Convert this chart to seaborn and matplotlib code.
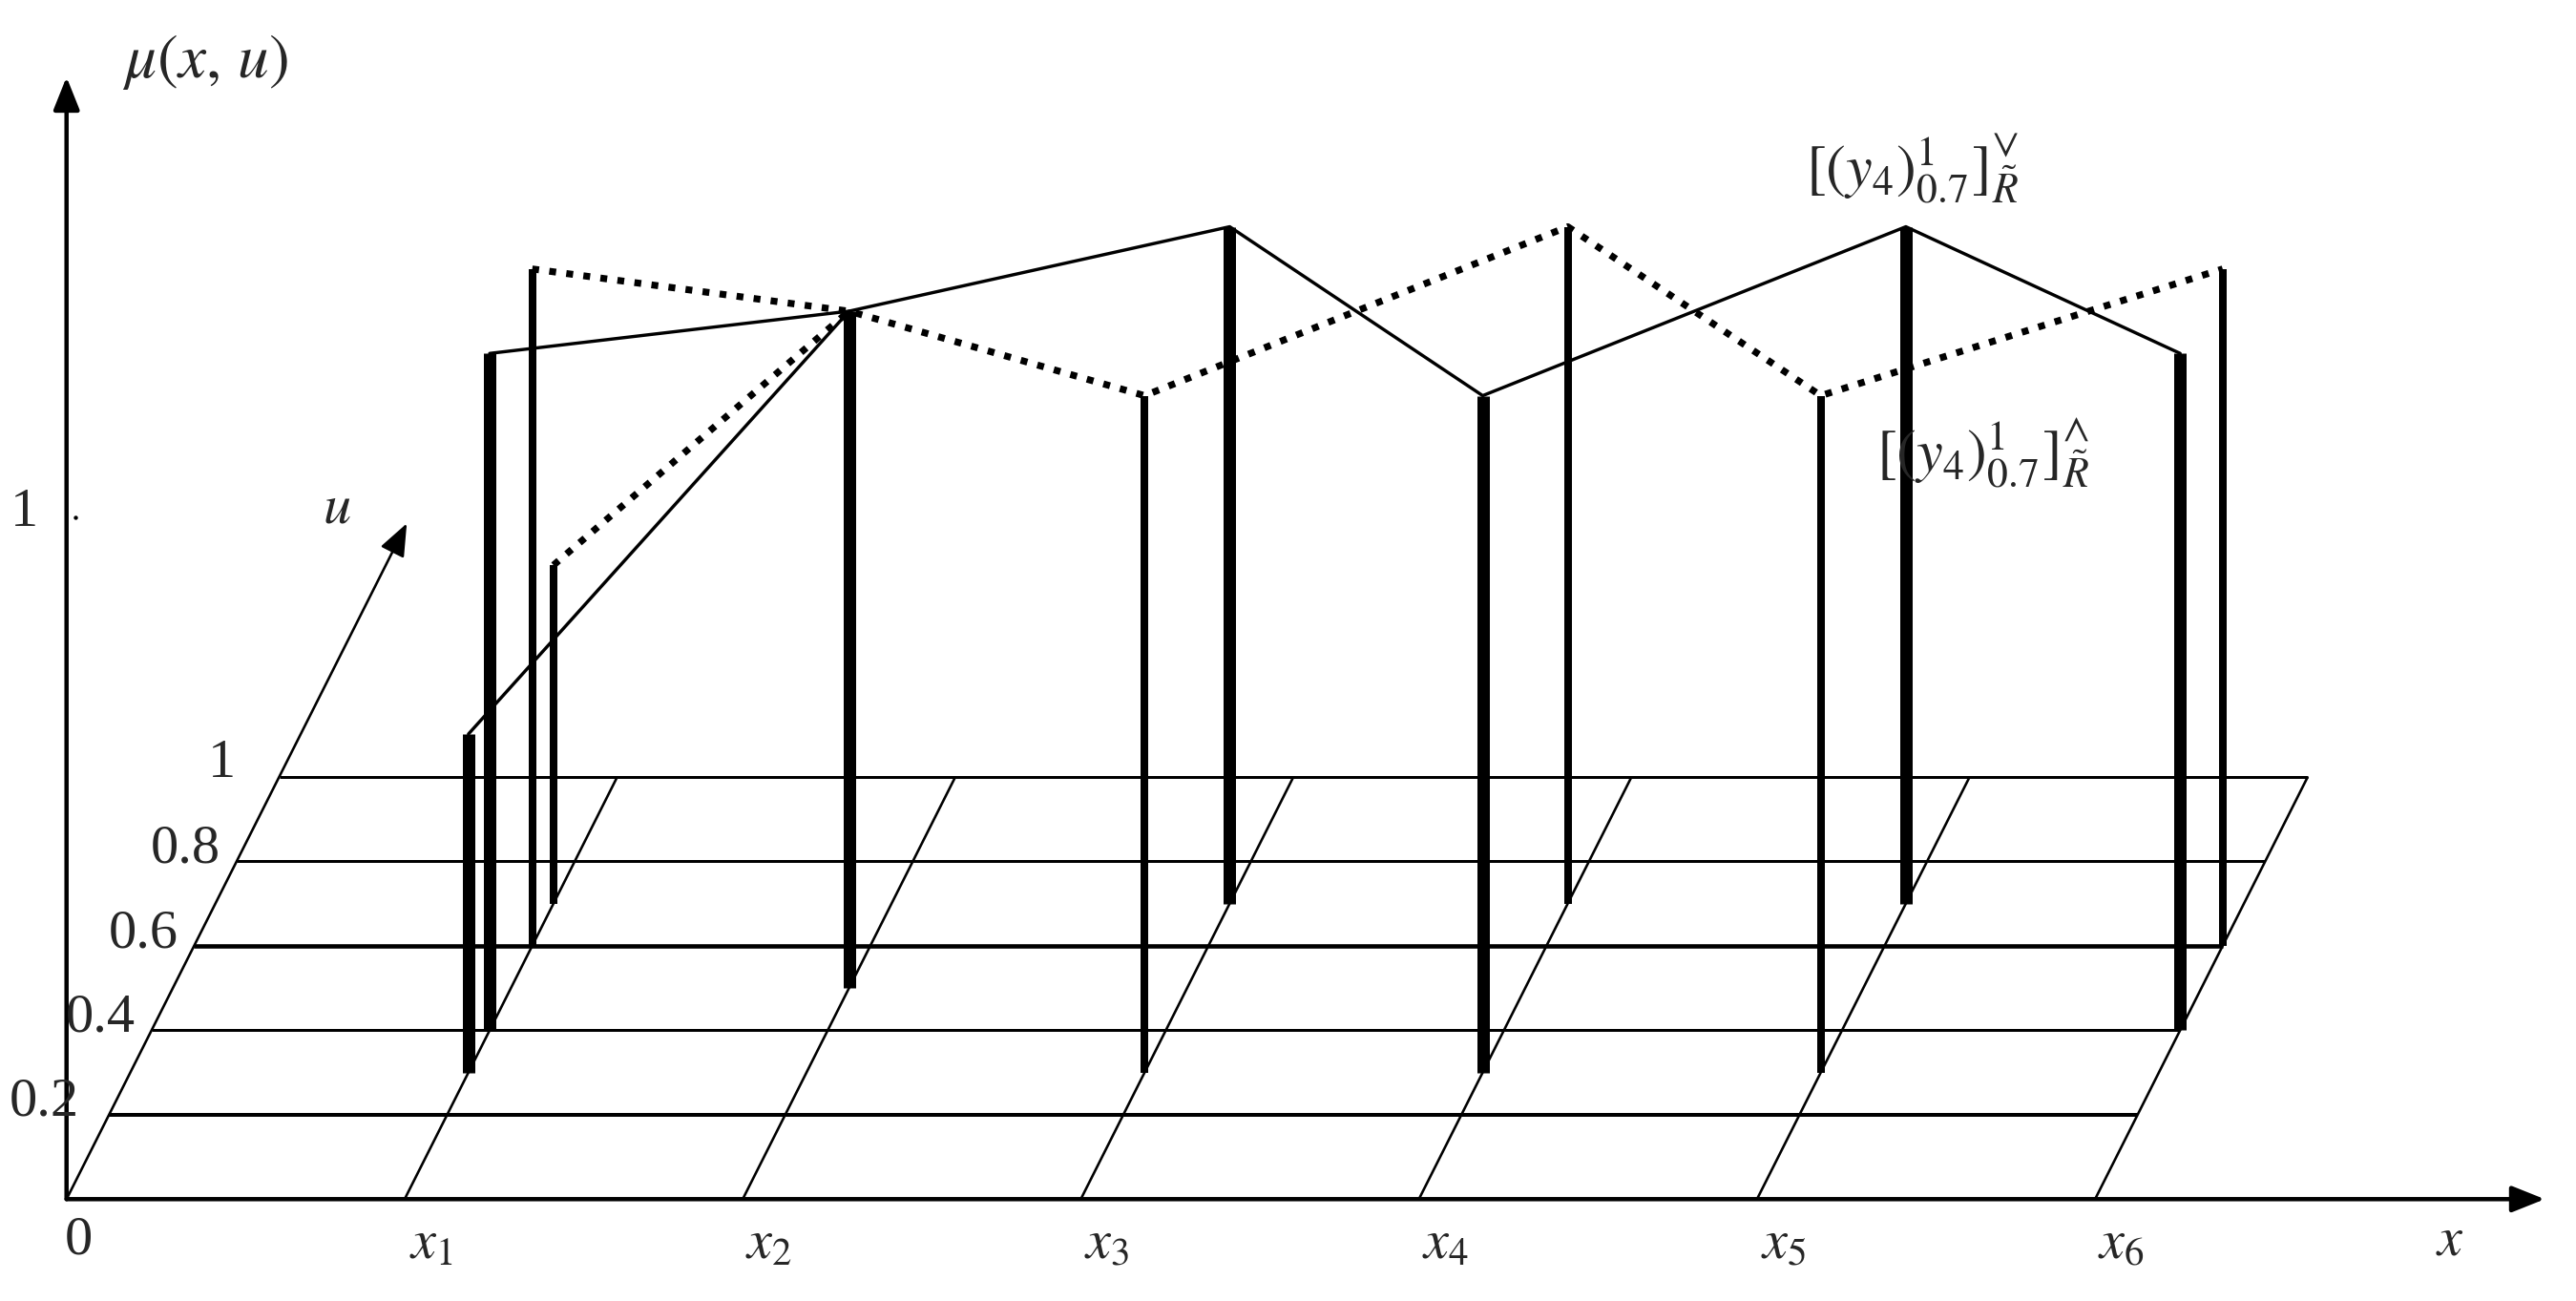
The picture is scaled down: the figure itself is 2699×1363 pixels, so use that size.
import numpy as np
import pandas as pd
import matplotlib
matplotlib.use('Agg')
import matplotlib.pyplot as plt
import seaborn as sns

# domain values
x_ticks = [0, 1, 2, 3, 4, 5, 6]
x_labels = ['$x_1$', '$x_2$', '$x_3$', '$x_4$', '$x_5$', '$x_6$']
u_levels = [0.2, 0.4, 0.6, 0.8, 1]
u_labels = ['0.2', '0.4', '0.6', '0.8', '1']

# vertical stems: primary x, secondary u, membership mu, heavy (the lower bound) or not
stem_x = [1, 1, 1, 1, 2, 3, 3, 4, 4, 5, 5, 6, 6]
stem_u = [0.3, 0.4, 0.6, 0.7, 0.5, 0.3, 0.7, 0.3, 0.7, 0.3, 0.7, 0.4, 0.6]
stem_mu = [0.5, 1, 1, 0.5, 1, 1, 1, 1, 1, 1, 1, 1, 1]
stem_heavy = [1, 1, 0, 0, 1, 0, 1, 1, 0, 0, 1, 1, 0]

# embedded sets joining the stem tops
solid_x = [1, 2, 3, 4, 5, 6]
solid_u = [0.4, 0.5, 0.7, 0.3, 0.7, 0.4]
solid_branch_x = [1, 2]
solid_branch_u = [0.3, 0.5]
solid_branch_mu = [0.5, 1]

dotted_x = [1, 2, 3, 4, 5, 6]
dotted_u = [0.6, 0.5, 0.3, 0.7, 0.3, 0.6]
dotted_branch_x = [1, 2]
dotted_branch_u = [0.7, 0.5]
dotted_branch_mu = [0.5, 1]

# oblique projection of the (x, u, mu) box on the page
SHEAR = 0.629
DEPTH = 0.624


def project(x, u, mu=0):
    x, u, mu = np.asarray(x, float), np.asarray(u, float), np.asarray(mu, float)
    return x + SHEAR * u, DEPTH * u + mu


def px(w):
    # line width given in pixels of the final image
    return w * 72 / 100


def draw_line(ax, x, u, mu=0, lw=3.0, **kw):
    sx, sy = project(x, u, mu)
    df = pd.DataFrame({'sx': np.atleast_1d(sx), 'sy': np.atleast_1d(sy)})
    sns.lineplot(data=df, x='sx', y='sy', sort=False, estimator=None, color='black',
                 lw=px(lw), ax=ax, legend=False, **kw)


def main():
    sns.set_theme(style='white')
    plt.rcParams['mathtext.fontset'] = 'stix'
    plt.rcParams['font.family'] = ['Liberation Serif', 'DejaVu Serif']

    fig = plt.figure(figsize=(26.99, 13.63), dpi=100)
    ax = fig.add_axes([0, 0, 1, 1])
    ax.set_xlim(-0.1968, 7.4224)
    ax.set_ylim(-0.1505, 1.7718)
    ax.axis('off')

    # floor grid
    for u in u_levels:
        thick = {0.6: 4.6, 0.2: 4.0}.get(u, 3.0)
        draw_line(ax, [0, 6], [u, u], lw=thick, solid_capstyle='butt')
    for x in x_ticks[1:]:
        draw_line(ax, [x, x], [0, 1], lw=2.6, solid_capstyle='butt')

    # stems
    stems = pd.DataFrame({'x': stem_x, 'u': stem_u, 'mu': stem_mu, 'heavy': stem_heavy})
    for row in stems.itertuples():
        draw_line(ax, [row.x, row.x], [row.u, row.u], [0, row.mu],
                  lw=13.0 if row.heavy else 8.0, solid_capstyle='butt')

    # embedded sets
    draw_line(ax, solid_x, solid_u, np.ones(len(solid_x)), lw=3.4)
    draw_line(ax, solid_branch_x, solid_branch_u, solid_branch_mu, lw=3.4)
    dots = (0, (1, 1.5))
    draw_line(ax, dotted_x, dotted_u, np.ones(len(dotted_x)), lw=7.2, linestyle=dots,
              dash_capstyle='butt')
    draw_line(ax, dotted_branch_x, dotted_branch_u, dotted_branch_mu, lw=7.2, linestyle=dots,
              dash_capstyle='butt')

    # axes with arrow heads
    arrow = dict(arrowstyle='-|>,head_length=0.75,head_width=0.3', color='black',
                 shrinkA=0, shrinkB=0, mutation_scale=28)
    ax.annotate('', xy=(7.33, 0), xytext=(0, 0), arrowprops=dict(arrow, lw=px(4.5)))
    ax.annotate('', xy=(0, 1.658), xytext=(0, 0), arrowprops=dict(arrow, lw=px(4.5)))
    tip = project(0, 1.6)
    ax.annotate('', xy=(float(tip[0]), float(tip[1])), xytext=(0, 0),
                arrowprops=dict(arrow, lw=px(2.6)))

    # texts
    fs = 42
    for x, label in zip(x_ticks[1:], x_labels):
        ax.text(x + 0.078, -0.068, label, fontsize=fs, ha='center', va='center')
    ax.text(0.036, -0.061, '0', fontsize=fs, ha='center', va='center')
    ax.text(7.05, -0.063, '$x$', fontsize=fs, ha='center', va='center')
    ax.text(0.41, 1.68, r'$\mu(x,\,u)$', fontsize=fs + 5, ha='center', va='center')
    ax.text(0.80, 1.02, '$u$', fontsize=fs, ha='center', va='center')
    ax.text(-0.124, 1.014, '1', fontsize=fs, ha='center', va='center')
    ax.scatter([0.027], [1.007], s=10, color='black', linewidths=0)

    label_x = [-0.066, 0.1, 0.226, 0.352, 0.459]
    label_y = [0.143, 0.267, 0.392, 0.518, 0.643]
    for lx, ly, label in zip(label_x, label_y, u_labels):
        ax.text(lx, ly, label, fontsize=fs, ha='center', va='center')

    ax.text(5.46, 1.522, r'$[(y_4)^{1}_{0.7}]^{\vee}_{\tilde{R}}$', fontsize=fs + 3,
            ha='center', va='center')
    ax.text(5.668, 1.102, r'$[(y_4)^{1}_{0.7}]^{\wedge}_{\tilde{R}}$', fontsize=fs + 3,
            ha='center', va='center')

    fig.savefig('out.png', dpi=100, facecolor='white')


if __name__ == '__main__':
    main()
